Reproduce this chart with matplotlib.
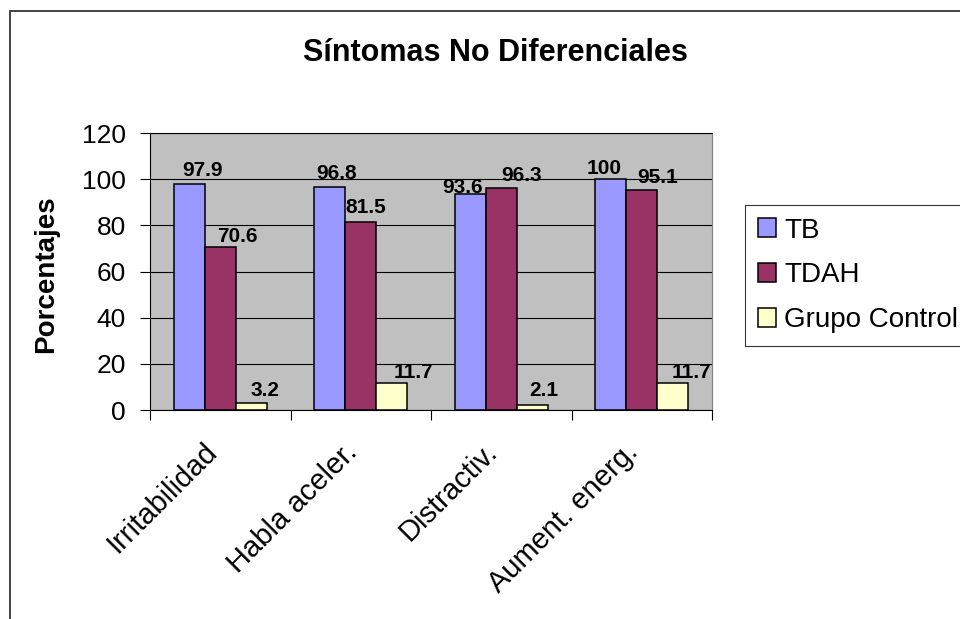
import numpy as np
import matplotlib
matplotlib.use('Agg')
import matplotlib.pyplot as plt
from matplotlib.patches import Patch, Rectangle
from matplotlib.transforms import ScaledTranslation

plt.rcParams['font.family'] = ['Liberation Sans', 'DejaVu Sans']

categories = ['Irritabilidad', 'Habla aceler.', 'Distractiv.', 'Aument. energ.']
series_names = ['TB', 'TDAH', 'Grupo Control']
tb = [97.9, 96.8, 93.6, 100]
tdah = [70.6, 81.5, 96.3, 95.1]
control = [3.2, 11.7, 2.1, 11.7]
yticks = [0, 20, 40, 60, 80, 100, 120]

colors = ['#9999FF', '#993366', '#FFFFCC']
# hand nudges of the data labels (pixels), as placed in the original chart
label_dx = [[13, 7, -7.5, -6.5], [17, 5.5, 20, 15.5], [14, 22, 11.5, 18.5]]
label_dy = [[8, 8, 1, 5], [5, 9, 7, 7], [7, 5, 9, 5]]

W, H = 960, 619
fig = plt.figure(figsize=(W / 100, H / 100), dpi=100)
ax = fig.add_axes([150 / W, 1 - 410 / H, 562 / W, 277 / H])
ax.set_facecolor('#C0C0C0')

x = np.arange(len(categories))
w = 0.22
px2pt = 0.72
for j, (vals, c) in enumerate(zip([tb, tdah, control], colors)):
    pos = x + (j - 1) * w
    ax.bar(pos, vals, width=w, color=c, edgecolor='black', linewidth=1.1, zorder=3)
    for i, v in enumerate(vals):
        ax.annotate(f'{v:g}', (pos[i], v),
                    xytext=(label_dx[j][i] * px2pt, label_dy[j][i] * px2pt),
                    textcoords='offset points', ha='center', va='baseline',
                    fontsize=15, fontweight='bold', zorder=4)

ax.set_xlim(-0.5, len(categories) - 0.5)
ax.set_ylim(0, 120)
ax.set_yticks(yticks)
ax.yaxis.grid(True, color='black', linewidth=0.8, zorder=1)
ax.set_axisbelow(True)
ax.tick_params(axis='y', direction='out', length=7.2, width=0.8, pad=10, labelsize=19)

ax.set_xticks(x)
ax.set_xticklabels(categories, rotation=45, ha='right', va='center',
                   rotation_mode='anchor', fontsize=21)
ax.set_xticks(np.arange(-0.5, len(categories) + 0.5, 1), minor=True)
ax.tick_params(axis='x', which='major', length=0, pad=27)
ax.tick_params(axis='x', which='minor', direction='out', length=7.2, width=0.8)
shift = ScaledTranslation(-8 / 100, 0, fig.dpi_scale_trans)
for lab in ax.get_xticklabels():
    lab.set_transform(lab.get_transform() + shift)

for s in ['left', 'bottom', 'top']:
    ax.spines[s].set_color('black')
    ax.spines[s].set_linewidth(0.8)
ax.spines['right'].set_color('#808080')
ax.spines['right'].set_linewidth(0.8)

fig.text(495 / W, 1 - 53 / H, 'Síntomas No Diferenciales', ha='center', va='center',
         fontsize=22, fontweight='bold')
fig.text(46 / W, 1 - 274 / H, 'Porcentajes', ha='center', va='center',
         rotation=90, fontsize=20, fontweight='bold')

handles = [Patch(facecolor=c, edgecolor='black', linewidth=1.1) for c in colors]
leg = fig.legend(handles, series_names, loc='upper left',
                 bbox_to_anchor=(745 / W, 1 - 205 / H), bbox_transform=fig.transFigure,
                 fontsize=20, frameon=True, fancybox=False, shadow=False,
                 handlelength=0.65, handleheight=0.65, handletextpad=0.32,
                 labelspacing=0.68, borderpad=0.45, borderaxespad=0)
leg.get_frame().set_edgecolor('black')
leg.get_frame().set_linewidth(0.8)

# outer chart border (continues past the right and bottom edges)
fig.patches.append(Rectangle((10 / W, -0.2), 1.5, 1.2 - 11 / H, transform=fig.transFigure,
                             fill=False, edgecolor='#333333', linewidth=1.3))

fig.savefig('out.png', dpi=100)
